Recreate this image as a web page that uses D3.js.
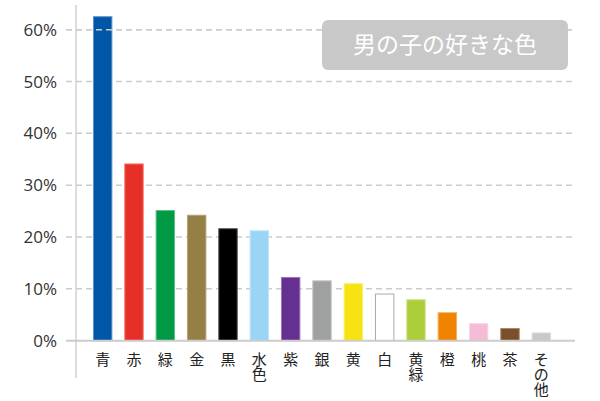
<!DOCTYPE html>
<html><head><meta charset="utf-8">
<script src="https://cdn.jsdelivr.net/npm/d3@7/dist/d3.min.js"></script>
<style>body{margin:0;background:#fff}svg{display:block}</style>
</head><body>
<svg id="c" width="600" height="401"></svg>
<script>
const categories = ["青","赤","緑","金","黒","水色","紫","銀","黄","白","黄緑","橙","桃","茶","その他"];
const labelLines = [["青"],["赤"],["緑"],["金"],["黒"],["水","色"],["紫"],["銀"],["黄"],["白"],["黄","緑"],["橙"],["桃"],["茶"],["そ","の","他"]];
const values = [62.6,34.2,25.2,24.3,21.7,21.3,12.3,11.65,11.1,9.1,8.0,5.5,3.4,2.45,1.6];
const colors = ["#0057a8","#e63027","#009944","#947f44","#000000","#9bd5f5","#663090","#9fa0a0","#f6e311","#ffffff","#acce3a","#f08300","#f4bcd6","#7a4f2a","#c9c9c9"];
const strokes = ["#5d8fc8","#f07a70","#5ebd85","#b3a27a","#555555","#c0e5f9","#9a78b8","#c5c5c5","#faef70","#aaaaaa","#cde28a","#f5b066","#f9d7e6","#a88a70","#dddddd"];
const yTicks = [0,10,20,30,40,50,60];
const title = "男の子の好きな色";

const svg = d3.select("#c");
const y = d3.scaleLinear().domain([0,60]).range([340.7,29.7]);
const x = d3.scaleBand().domain(categories).range([87,557]).paddingInner(0.38).paddingOuter(0.19);

svg.append("g").selectAll("line").data(yTicks.filter(d=>d>0)).join("line")
  .attr("x1",66).attr("x2",575).attr("y1",d=>y(d)).attr("y2",d=>y(d))
  .attr("stroke","#cccccc").attr("stroke-width",1.5).attr("stroke-dasharray","6,4");

svg.append("line").attr("x1",76).attr("x2",76).attr("y1",5).attr("y2",378)
  .attr("stroke","#d0d0d0").attr("stroke-width",1.5);

svg.append("g").selectAll("rect").data(values).join("rect")
  .attr("x",(d,i)=>x(categories[i])+0.5).attr("width",x.bandwidth()-1)
  .attr("y",d=>y(d)+0.5).attr("height",d=>y(0)-y(d)-0.5)
  .attr("fill",(d,i)=>colors[i]).attr("stroke",(d,i)=>strokes[i]).attr("stroke-width",1);

svg.append("line").attr("x1",66).attr("x2",575).attr("y1",y(60)).attr("y2",y(60))
  .attr("stroke","#cccccc").attr("stroke-width",1.5).attr("stroke-dasharray","6,4");

svg.append("line").attr("x1",66).attr("x2",575).attr("y1",y(0)).attr("y2",y(0))
  .attr("stroke","#cccccc").attr("stroke-width",2);

svg.append("g").selectAll("text").data(yTicks).join("text")
  .attr("x",57).attr("y",d=>y(d)).attr("dy","0.36em").attr("text-anchor","end")
  .attr("font-family","'Open Sans', sans-serif").attr("font-size",17).attr("fill","#333")
  .text(d=>d+"%");

const g = svg.append("g");
labelLines.forEach((lines,i)=>{
  lines.forEach((s,j)=>{
    g.append("text").attr("text-anchor","middle")
      .attr("font-family","'Noto Sans CJK JP', sans-serif").attr("font-size",15).attr("fill","#222")
      .attr("x",x(categories[i])+x.bandwidth()/2).attr("y",360+j*15).attr("dy","0.36em").text(s);
  });
});

svg.append("rect").attr("x",322).attr("y",20).attr("width",246).attr("height",50).attr("rx",6)
  .attr("fill","#c8c8c8");
svg.append("text").attr("x",445).attr("y",45).attr("dy","0.36em").attr("text-anchor","middle")
  .attr("font-family","'Noto Sans CJK JP', sans-serif").attr("font-size",23).attr("fill","#fff")
  .text(title);
</script>
</body></html>
